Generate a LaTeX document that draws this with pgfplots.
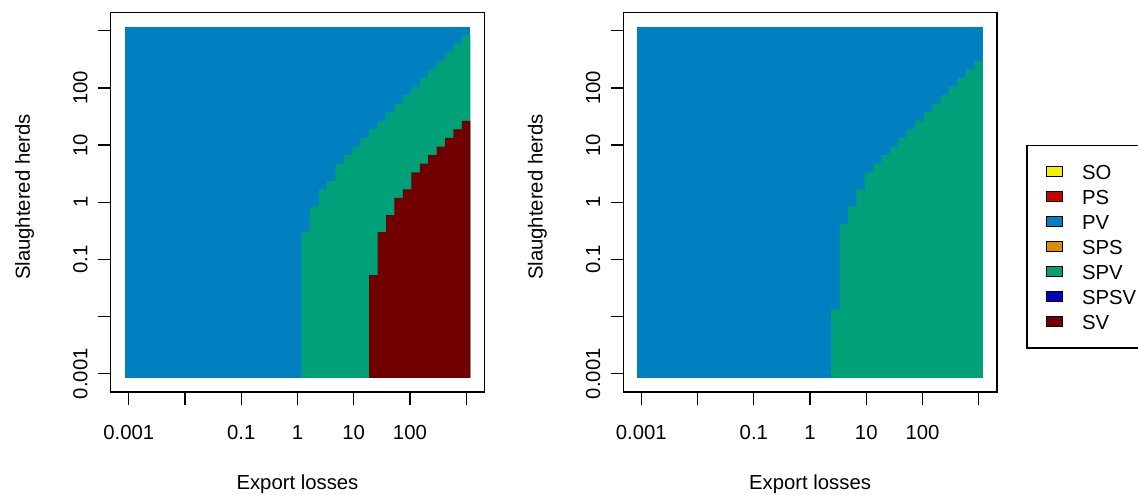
\documentclass[border=0pt]{standalone}
\usepackage{pgfplots}
\pgfplotsset{compat=1.18}
\usepackage{fontspec}
\setmainfont{Liberation Sans}

\definecolor{cSO}{HTML}{F0F000}
\definecolor{cPS}{HTML}{C80000}
\definecolor{cPV}{HTML}{0080C0}
\definecolor{cSPS}{HTML}{DC8C00}
\definecolor{cSPV}{HTML}{00A078}
\definecolor{cSPSV}{HTML}{0000BE}
\definecolor{cSV}{HTML}{700000}

\newcommand{\chartfont}{\fontsize{20.3}{24}\selectfont}

\begin{document}
\begin{tikzpicture}
\useasboundingbox (0pt,0pt) rectangle (1138pt,495pt);

% left panel
\begin{axis}[at={(110.7pt,103pt)}, anchor=south west,
    xmode=log, ymode=log,
    scale only axis, width=373.5pt, height=379.5pt,
    xmin=4.775e-4, xmax=2094.3, ymin=4.775e-4, ymax=2094.3,
    xtick={0.001,0.01,0.1,1,10,100,1000},
    ytick={0.001,0.01,0.1,1,10,100,1000},
    xticklabels={0.001,{},0.1,1,10,100,{}},
    yticklabels={0.001,{},0.1,1,10,100,{}},
    xminorticks=false, yminorticks=false,
    tick pos=left, tick align=outside, major tick length=12.5pt,
    major tick style={black, line width=1.3pt},
    axis line style={line width=1.4pt},
    tick label style={font=\chartfont},
    xticklabel style={anchor=north, inner sep=0pt, yshift=-21pt},
    yticklabel style={xshift=-10.4pt, rotate=90, anchor=south, inner sep=0pt},
    xlabel style={font=\chartfont, at={(axis description cs:0.5,-0.2187)}, anchor=north, inner sep=0pt},
    ylabel style={font=\chartfont, at={(axis description cs:-0.2562,0.5138)}, rotate=0, anchor=north, inner sep=0pt},
    xlabel={Export losses},
    ylabel={Slaughtered herds},
]
% PV everywhere
\addplot[fill=cPV, draw=none, forget plot] coordinates {
  (8.414e-4,8.414e-4) (1188.502,8.414e-4) (1188.502,1188.502) (8.414e-4,1188.502)};
% SPV
\addplot[const plot, fill=cSPV, draw=none, forget plot] coordinates {
  (1.188502,8.414e-4) (1.188502,0.298538) (1.678804,0.841395) (2.371374,1.678804)
  (3.349654,2.371374) (4.731513,4.731513) (6.683439,6.683439) (9.440609,9.440609)
  (13.33521,13.33521) (18.83649,18.83649) (26.60725,26.60725) (37.58374,37.58374)
  (53.08844,53.08844) (74.98942,74.98942) (105.9254,105.9254) (149.6236,149.6236)
  (211.3489,211.3489) (298.5383,298.5383) (421.6965,421.6965) (595.6621,595.6621)
  (841.3951,841.3951) (1188.502,841.3951) (1188.502,8.414e-4)};
% SV
\addplot[const plot, fill=cSV, draw=none, forget plot] coordinates {
  (18.83649,8.414e-4) (18.83649,0.0530884) (26.60725,0.298538) (37.58374,0.595662)
  (53.08844,1.188502) (74.98942,1.678804) (105.9254,3.349654) (149.6236,4.731513)
  (211.3489,6.683439) (298.5383,9.440609) (421.6965,13.33521) (595.6621,18.83649)
  (841.3951,26.60725) (1188.502,26.60725) (1188.502,8.414e-4)};
\end{axis}

% right panel
\begin{axis}[at={(623.3pt,103pt)}, anchor=south west,
    xmode=log, ymode=log,
    scale only axis, width=373.5pt, height=379.5pt,
    xmin=4.775e-4, xmax=2094.3, ymin=4.775e-4, ymax=2094.3,
    xtick={0.001,0.01,0.1,1,10,100,1000},
    ytick={0.001,0.01,0.1,1,10,100,1000},
    xticklabels={0.001,{},0.1,1,10,100,{}},
    yticklabels={0.001,{},0.1,1,10,100,{}},
    xminorticks=false, yminorticks=false,
    tick pos=left, tick align=outside, major tick length=12.5pt,
    major tick style={black, line width=1.3pt},
    axis line style={line width=1.4pt},
    tick label style={font=\chartfont},
    xticklabel style={anchor=north, inner sep=0pt, yshift=-21pt},
    yticklabel style={xshift=-10.4pt, rotate=90, anchor=south, inner sep=0pt},
    xlabel style={font=\chartfont, at={(axis description cs:0.5,-0.2187)}, anchor=north, inner sep=0pt},
    ylabel style={font=\chartfont, at={(axis description cs:-0.2562,0.5138)}, rotate=0, anchor=north, inner sep=0pt},
    xlabel={Export losses},
    ylabel={Slaughtered herds},
    legend cell align=left,
    legend image code/.code={\draw[#1, draw=black, line width=0.9pt] (0pt,-5pt) rectangle (16pt,5pt);},
    legend style={at={(axis description cs:1.0794,0.6514)}, anchor=north west,
      draw=black, line width=1.3pt, inner xsep=19pt, inner ysep=19pt,
      row sep=10.3pt, column sep=19pt, font=\chartfont,
      nodes={inner sep=0pt, text height=14.7pt, text depth=0pt}},
]
\addplot[fill=cPV, draw=none, forget plot] coordinates {
  (8.414e-4,8.414e-4) (1188.502,8.414e-4) (1188.502,1188.502) (8.414e-4,1188.502)};
\addplot[const plot, fill=cSPV, draw=none, forget plot] coordinates {
  (2.371374,8.414e-4) (2.371374,0.0133352) (3.349654,0.421697) (4.731513,0.841395)
  (6.683439,1.678804) (9.440609,3.349654) (13.33521,4.731513) (18.83649,6.683439)
  (26.60725,9.440609) (37.58374,13.33521) (53.08844,18.83649) (74.98942,26.60725)
  (105.9254,37.58374) (149.6236,53.08844) (211.3489,74.98942) (298.5383,105.9254)
  (421.6965,149.6236) (595.6621,211.3489) (841.3951,298.5383) (1188.502,298.5383)
  (1188.502,8.414e-4)};
\addlegendimage{fill=cSO}   \addlegendentry{SO}
\addlegendimage{fill=cPS}   \addlegendentry{PS}
\addlegendimage{fill=cPV}   \addlegendentry{PV}
\addlegendimage{fill=cSPS}  \addlegendentry{SPS}
\addlegendimage{fill=cSPV}  \addlegendentry{SPV}
\addlegendimage{fill=cSPSV} \addlegendentry{SPSV}
\addlegendimage{fill=cSV}   \addlegendentry{SV}
\end{axis}
\end{tikzpicture}
\end{document}
